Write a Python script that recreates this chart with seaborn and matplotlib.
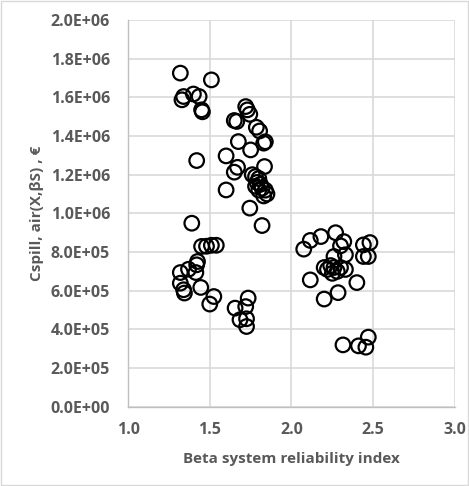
import pandas as pd
import seaborn as sns
import matplotlib
import matplotlib.pyplot as plt
from matplotlib.ticker import FuncFormatter

matplotlib.use('Agg')

# Beta system reliability index (x) and spill cost (y)
beta = [
    1.32, 1.51, 1.33, 1.34, 1.40, 1.435, 1.45, 1.455,
    1.42, 1.39,
    1.72, 1.73, 1.745, 1.65, 1.665, 1.785, 1.805, 1.83, 1.84, 1.675,
    1.75, 1.60, 1.835, 1.67, 1.65,
    1.76, 1.78, 1.80, 1.79, 1.81, 1.78, 1.82, 1.80, 1.84, 1.85, 1.83,
    1.60, 1.745, 1.82,
    1.45, 1.48, 1.51, 1.54, 1.425, 1.42, 1.37, 1.415, 1.32, 1.32,
    1.34, 1.345, 1.445, 1.525, 1.50,
    1.735, 1.655, 1.72, 1.685, 1.725, 1.725,
    2.075, 2.115, 2.18, 2.27, 2.32, 2.30, 2.44, 2.48, 2.44, 2.47,
    2.33, 2.26, 2.20, 2.22, 2.24, 2.26, 2.28, 2.30, 2.33, 2.25,
    2.115, 2.40, 2.285, 2.20,
    2.47, 2.315, 2.41, 2.455,
]
cost = [
    1.725e6, 1.69e6, 1.587e6, 1.604e6, 1.617e6, 1.604e6, 1.535e6, 1.525e6,
    1.273e6, 0.949e6,
    1.552e6, 1.535e6, 1.512e6, 1.48e6, 1.475e6, 1.445e6, 1.426e6, 1.363e6, 1.37e6, 1.371e6,
    1.328e6, 1.297e6, 1.242e6, 1.238e6, 1.213e6,
    1.20e6, 1.19e6, 1.18e6, 1.16e6, 1.15e6, 1.14e6, 1.13e6, 1.12e6, 1.12e6, 1.10e6, 1.09e6,
    1.121e6, 1.027e6, 0.937e6,
    0.829e6, 0.83e6, 0.835e6, 0.835e6, 0.751e6, 0.734e6, 0.711e6, 0.694e6, 0.694e6, 0.639e6,
    0.605e6, 0.588e6, 0.617e6, 0.57e6, 0.531e6,
    0.562e6, 0.51e6, 0.518e6, 0.45e6, 0.455e6, 0.415e6,
    0.815e6, 0.86e6, 0.88e6, 0.90e6, 0.854e6, 0.832e6, 0.837e6, 0.849e6, 0.777e6, 0.777e6,
    0.786e6, 0.777e6, 0.72e6, 0.71e6, 0.73e6, 0.72e6, 0.70e6, 0.72e6, 0.71e6, 0.69e6,
    0.656e6, 0.642e6, 0.59e6, 0.557e6,
    0.36e6, 0.32e6, 0.315e6, 0.308e6,
]

df = pd.DataFrame({'beta': beta, 'cost': cost})

sns.set_style("white")
plt.rcParams['font.family'] = ['Open Sans', 'DejaVu Sans']

fig = plt.figure(figsize=(4.69, 4.86), dpi=100)
ax = fig.add_axes([0.273, 0.163, 0.697, 0.796])

sns.scatterplot(data=df, x='beta', y='cost', ax=ax, s=110, marker='o',
                facecolor='none', edgecolor='black', linewidth=1.6, zorder=3)

ax.set_xlim(1.0, 3.0)
ax.set_ylim(0, 2.0e6)
ax.set_xticks([1.0, 1.5, 2.0, 2.5, 3.0])
ax.set_yticks([i * 2e5 for i in range(11)])
ax.xaxis.set_major_formatter(FuncFormatter(lambda v, p: f"{v:.1f}"))
ax.yaxis.set_major_formatter(FuncFormatter(lambda v, p: f"{v:.1E}"))
ax.grid(True, color='#d9d9d9', linewidth=1.2, zorder=0)
ax.set_axisbelow(True)
for side in ['top', 'right']:
    ax.spines[side].set_visible(False)
for side in ['left', 'bottom']:
    ax.spines[side].set_color('#bfbfbf')
    ax.spines[side].set_linewidth(1.0)

ax.tick_params(axis='x', length=0, labelsize=11.5, labelcolor='#595959', pad=11)
ax.tick_params(axis='y', length=0, labelsize=11.5, labelcolor='#595959', pad=13)
for lab in ax.get_xticklabels() + ax.get_yticklabels():
    lab.set_fontweight('bold')

ax.set_xlabel("Beta system reliability index", fontsize=11, color='#595959',
              fontweight='bold', labelpad=10)
ax.set_ylabel("Cspill, air(X,βS) , €", fontsize=11, color='#595959',
              fontweight='bold', labelpad=5)

fig.patches.append(plt.Rectangle((0.003, 0.003), 0.994, 0.994, transform=fig.transFigure,
                                 fill=False, edgecolor='#d9d9d9', linewidth=1))

plt.savefig("out.png", dpi=100)
plt.close()
